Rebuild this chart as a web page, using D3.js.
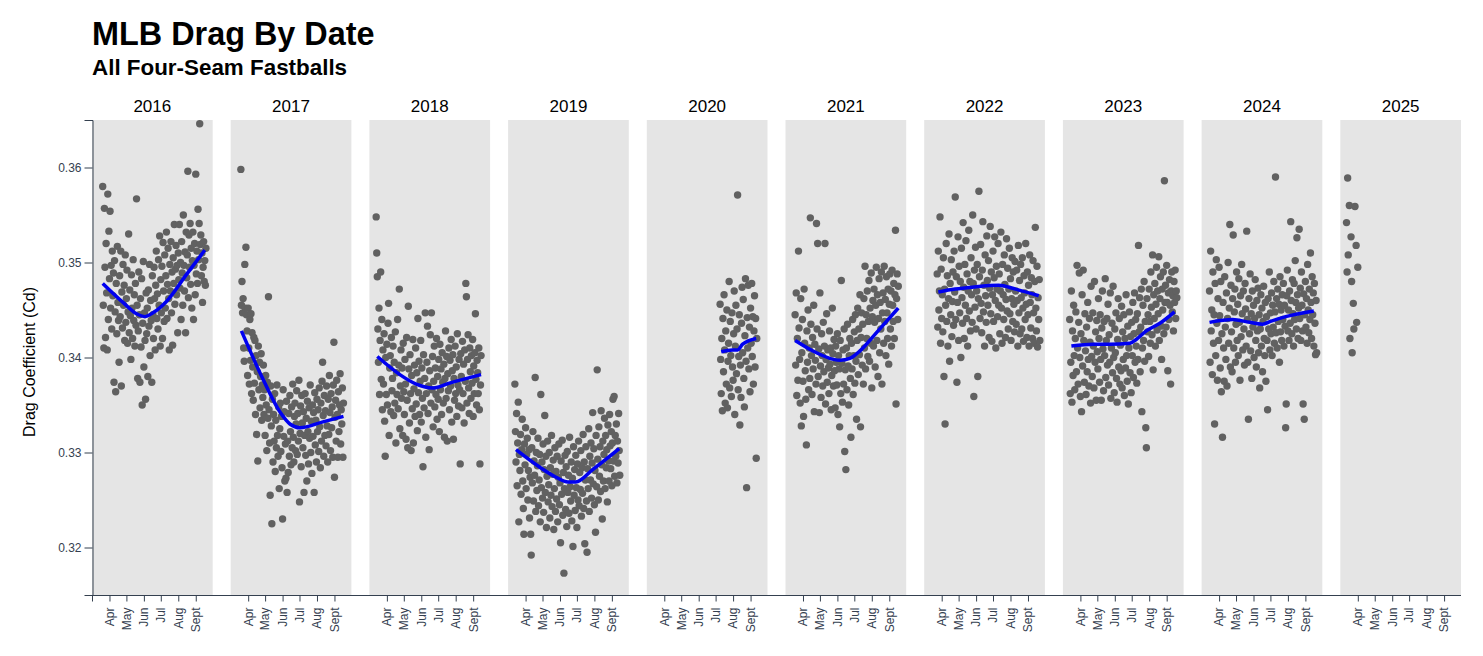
<!DOCTYPE html>
<html>
<head>
<meta charset="utf-8">
<script src="https://cdn.jsdelivr.net/npm/d3@7"></script>
<style>
  body { margin: 0; background: #fff; }
  svg { font-family: "Liberation Sans", Arial, sans-serif; }
</style>
</head>
<body>
<svg id="chart" width="1483" height="656"></svg>
<script>
const years = [2016, 2017, 2018, 2019, 2020, 2021, 2022, 2023, 2024, 2025];
// first point of each season, in days after March 1
const firstDay = [19, 18, 12, 12, 130, 17, 23, 12, 14, 11];
const monthLabels = ['Apr', 'May', 'Jun', 'Jul', 'Aug', 'Sept'];
const yTicks = [0.32, 0.33, 0.34, 0.35, 0.36];

// daily drag coefficient, in units of 0.0001 (null = no games)
const cd2016 = [
  3580, 3455, 3410, 3557, 3495, 3421, 3520, 3468, 3408, 3572,
  3440, 3533, 3483, 3554, 3452, 3497, 3430, 3512, 3465, 3489,
  3374, 3502, 3448, 3364, 3478, 3425, 3517, 3458, 3439, 3395,
  3486, 3443, 3512, 3370, 3469, 3431, 3498, 3455, 3476, 3418,
  3508, 3437, 3462, 3492, 3415, 3448, 3530, 3426, 3471, 3444,
  3398, 3487, 3452, 3420, 3503, 3439, 3466, 3412, 3478, 3434,
  3567, 3455, 3378, 3428, 3490, 3445, 3374, 3462, 3411, 3483,
  3350, 3436, 3501, 3390, 3447, 3418, 3356, 3468, 3425, 3452,
  3380, 3471, 3433, 3498, 3402, 3460, 3439, 3374, 3486, 3445,
  3420, 3495, 3462, 3408, 3476, 3512, 3441, 3467, 3430, 3503,
  3455, 3528, 3412, 3482, 3447, 3496, 3420, 3521, 3470, 3438,
  3508, 3452, 3486, 3532, 3441, 3477, 3515, 3462, 3408, 3498,
  3470, 3522, 3447, 3490, 3413, 3505, 3478, 3540, 3456, 3493,
  3518, 3466, 3497, 3426, 3510, 3482, 3540, 3473, 3500, 3440,
  3522, 3489, 3455, 3550, 3497, 3470, 3511, 3426, 3532, 3484,
  3508, 3596, 3463, 3529, 3495, 3541, 3477, 3515, 3452, 3502,
  3532, 3440, 3497, 3520, 3466, 3593, 3488, 3512, 3478, 3556,
  3503, 3541, 3646, 3519, 3529, 3486, 3510, 3458, 3495, 3522,
  3480, 3502, 3476, 3515,
];
const cd2017 = [
  3598, 3455, 3480, 3447, 3462, 3410, 3396, 3498, 3452, 3516,
  3445, 3428, 3381, 3452, 3410, 3372, 3440, 3397, 3446, 3362,
  3426, 3390, 3355, 3421, 3373, 3418, 3340, 3402, 3319, 3385,
  3291, 3412, 3366, 3395, 3347, 3380, 3404, 3334, 3371, 3358,
  3392, 3340, 3366, 3318, 3381, 3350, 3302, 3374, 3336, 3464,
  3345, 3310, 3255, 3370, 3328, 3225, 3356, 3290, 3340, 3312,
  3362, 3280, 3334, 3305, 3371, 3318, 3296, 3348, 3262, 3325,
  3352, 3301, 3338, 3284, 3230, 3366, 3317, 3343, 3270, 3309,
  3273, 3354, 3258, 3312, 3279, 3341, 3296, 3360, 3322, 3287,
  3348, 3305, 3372, 3316, 3290, 3338, 3352, 3302, 3330, 3365,
  3298, 3341, 3312, 3376, 3248, 3320, 3349, 3285, 3360, 3331,
  3305, 3343, 3258, 3318, 3362, 3297, 3336, 3270, 3354, 3322,
  3288, 3347, 3315, 3371, 3300, 3333, 3278, 3350, 3317, 3342,
  3258, 3363, 3308, 3334, 3290, 3356, 3322, 3345, 3301, 3368,
  3327, 3284, 3352, 3312, 3375, 3395, 3339, 3296, 3360, 3318,
  3344, 3307, 3370, 3328, 3290, 3356, 3319, 3381, 3342, 3302,
  3362, 3326, 3348, 3295, 3371, 3416, 3274, 3337, 3355, 3312,
  3376, 3340, 3295, 3364, 3322, 3350, 3383, 3309, 3345, 3330,
  3368, 3295, 3352,
];
const cd2018 = [
  3548, 3510, 3485, 3430, 3395, 3452, 3361, 3418, 3490, 3377,
  3440, 3345, 3408, 3372, 3425, 3333, 3296, 3400, 3361, 3414,
  3350, 3436, 3457, 3318, 3389, 3402, 3343, 3421, 3365, 3378,
  3412, 3339, 3395, 3352, 3427, 3310, 3384, 3361, 3440, 3346,
  3392, 3472, 3325, 3370, 3408, 3357, 3389, 3318, 3415, 3364,
  3340, 3398, 3372, 3314, 3421, 3355, 3305, 3454, 3388, 3331,
  3403, 3362, 3302, 3381, 3346, 3419, 3310, 3367, 3392, 3338,
  3410, 3351, 3384, 3323, 3441, 3363, 3396, 3340, 3375, 3418,
  3332, 3389, 3357, 3285, 3403, 3347, 3378, 3447, 3316, 3362,
  3395, 3433, 3341, 3370, 3303, 3386, 3424, 3352, 3447, 3366,
  3401, 3327, 3375, 3412, 3348, 3389, 3361, 3420, 3335, 3380,
  3356, 3398, 3322, 3414, 3366, 3388, 3340, 3405, 3374, 3352,
  3393, 3316, 3378, 3428, 3357, 3401, 3312, 3383, 3365, 3410,
  3345, 3397, 3370, 3419, 3332, 3386, 3403, 3314, 3378, 3355,
  3412, 3362, 3390, 3338, 3425, 3371, 3349, 3398, 3366, 3288,
  3404, 3380, 3347, 3417, 3362, 3393, 3331, 3408, 3375, 3478,
  3464, 3352, 3398, 3424, 3368, 3341, 3410, 3385, 3357, 3402,
  3373, 3419, 3338, 3391, 3362, 3405, 3446, 3377, 3350, 3397,
  3384, 3362, 3410, 3345, 3288, 3371, 3402,
];
const cd2019 = [
  3372, 3322, 3290, 3341, 3265, 3310, 3353, 3227, 3298, 3281,
  3319, 3256, 3303, 3335, 3270, 3241, 3214, 3309, 3287, 3326,
  3262, 3298, 3315, 3250, 3281, 3303, 3231, 3274, 3214, 3192,
  3305, 3268, 3322, 3249, 3291, 3276, 3379, 3238, 3300, 3260,
  3286, 3315, 3244, 3271, 3298, 3227, 3361, 3263, 3290, 3252,
  3309, 3237, 3282, 3339, 3258, 3296, 3221, 3275, 3312, 3248,
  3266, 3300, 3231, 3284, 3255, 3318, 3243, 3277, 3292, 3219,
  3262, 3305, 3238, 3280, 3251, 3296, 3227, 3274, 3309, 3245,
  3268, 3205, 3291, 3256, 3313, 3234, 3279, 3173, 3262, 3297,
  3240, 3285, 3222, 3301, 3258, 3276, 3236, 3316, 3264, 3249,
  3290, 3228, 3273, 3201, 3306, 3255, 3282, 3239, 3297, 3263,
  3221, 3288, 3250, 3312, 3244, 3279, 3261, 3302, 3233, 3284,
  3257, 3319, 3241, 3290, 3204, 3271, 3306, 3249, 3195, 3283,
  3262, 3325, 3238, 3296, 3271, 3310, 3252, 3289, 3342, 3267,
  3304, 3245, 3281, 3216, 3318, 3264, 3387, 3293, 3250, 3327,
  3275, 3306, 3259, 3344, 3287, 3230, 3312, 3270, 3298, 3336,
  3262, 3318, 3284, 3303, 3248, 3329, 3291, 3270, 3340, 3307,
  3283, 3322, 3265, 3310, 3356, 3291, 3359, 3275, 3318, 3296,
  3330, 3268, 3312, 3289, 3341, 3302, 3276,
];
const cd2020 = [
  3456, 3398, 3362, 3420, 3344, 3441, 3385, 3466, 3408, 3352,
  3428, 3372, 3450, 3347, 3396, 3415, 3480, 3368, 3438, 3402,
  3359, 3447, 3390, 3376, 3425, 3470, 3340, 3412, 3455, 3383,
  3430, 3571, 3366, 3401, 3445, 3329, 3392, 3358, 3436, 3474,
  3405, 3461, 3378, 3348, 3423, 3483, 3396, 3263, 3442, 3410,
  3476, 3388, 3432, 3364, 3452, 3415, 3478, 3401, 3443, 3372,
  3428, 3465, 3390, 3441, 3294, 3420,
];
const cd2021 = [
  3445, 3392, 3468, 3360, 3420, 3376, 3512, 3431, 3398, 3352,
  3462, 3328, 3405, 3440, 3375, 3338, 3472, 3415, 3386, 3356,
  3308, 3428, 3395, 3450, 3366, 3410, 3378, 3547, 3435, 3402,
  3361, 3421, 3388, 3455, 3343, 3414, 3397, 3372, 3541, 3430,
  3520, 3380, 3409, 3342, 3468, 3391, 3358, 3425, 3402, 3370,
  3437, 3385, 3412, 3520, 3351, 3398, 3446, 3374, 3408, 3389,
  3362, 3428, 3393, 3410, 3345, 3381, 3452, 3404, 3370, 3419,
  3386, 3347, 3412, 3395, 3371, 3425, 3340, 3402, 3388, 3327,
  3418, 3362, 3481, 3394, 3353, 3408, 3372, 3430, 3301, 3387,
  3282, 3410, 3366, 3435, 3391, 3350, 3402, 3420, 3378, 3316,
  3415, 3388, 3440, 3361, 3402, 3427, 3373, 3445, 3396, 3335,
  3418, 3452, 3382, 3430, 3403, 3466, 3327, 3421, 3447, 3392,
  3435, 3372, 3462, 3410, 3496, 3388, 3445, 3420, 3470, 3401,
  3438, 3481, 3396, 3452, 3415, 3489, 3368, 3443, 3460, 3412,
  3472, 3437, 3390, 3455, 3495, 3418, 3466, 3380, 3441, 3483,
  3405, 3458, 3430, 3490, 3372, 3447, 3468, 3415, 3496, 3438,
  3461, 3402, 3485, 3447, 3420, 3472, 3393, 3456, 3488, 3430,
  3470, 3412, 3492, 3455, 3438, 3478, 3420, 3466, 3534, 3351,
  3462, 3488, 3440, 3475,
];
const cd2022 = [
  3488, 3432, 3512, 3450, 3470, 3548, 3415, 3493, 3441, 3466,
  3427, 3505, 3380, 3472, 3330, 3455, 3520, 3438, 3486, 3412,
  3462, 3530, 3396, 3478, 3445, 3503, 3422, 3459, 3490, 3434,
  3512, 3469, 3569, 3440, 3485, 3374, 3458, 3527, 3418, 3496,
  3447, 3480, 3400, 3515, 3463, 3436, 3542, 3474, 3420, 3498,
  3455, 3523, 3441, 3488, 3412, 3470, 3534, 3449, 3480, 3428,
  3505, 3466, 3437, 3550, 3478, 3359, 3492, 3453, 3516, 3430,
  3470, 3498, 3380, 3462, 3575, 3485, 3441, 3519, 3457, 3426,
  3492, 3543, 3448, 3476, 3412, 3508, 3465, 3437, 3528, 3481,
  3455, 3502, 3421, 3473, 3538, 3446, 3490, 3417, 3466, 3512,
  3438, 3484, 3527, 3460, 3410, 3496, 3472, 3443, 3520, 3455,
  3488, 3425, 3470, 3532, 3452, 3415, 3498, 3466, 3440, 3508,
  3477, 3421, 3461, 3525, 3449, 3494, 3430, 3472, 3515, 3446,
  3483, 3418, 3462, 3505, 3438, 3490, 3456, 3427, 3501, 3470,
  3435, 3492, 3460, 3412, 3518, 3447, 3481, 3425, 3498, 3463,
  3430, 3505, 3452, 3417, 3486, 3468, 3440, 3520, 3456, 3421,
  3490, 3445, 3476, 3412, 3508, 3458, 3431, 3484, 3466, 3420,
  3502, 3447, 3415, 3480, 3537, 3452, 3428, 3496, 3411, 3463,
  3440, 3482, 3418,
];
const cd2023 = [
  3440, 3362, 3395, 3470, 3353, 3428, 3381, 3455, 3402, 3366,
  3420, 3448, 3385, 3497, 3410, 3372, 3437, 3489, 3400, 3359,
  3425, 3343, 3466, 3391, 3492, 3418, 3374, 3446, 3407, 3361,
  3432, 3385, 3458, 3398, 3370, 3441, 3416, 3352, 3475, 3401,
  3380, 3447, 3412, 3368, 3480, 3395, 3427, 3355, 3439, 3406,
  3388, 3462, 3420, 3374, 3445, 3398, 3355, 3431, 3470, 3409,
  3365, 3438, 3402, 3483, 3379, 3418, 3441, 3392, 3456, 3371,
  3424, 3395, 3468, 3357, 3410, 3436, 3384, 3475, 3400, 3363,
  3430, 3405, 3447, 3378, 3353, 3419, 3462, 3390, 3441, 3372,
  3413, 3386, 3454, 3368, 3427, 3398, 3445, 3360, 3420, 3389,
  3466, 3402, 3375, 3433, 3351, 3410, 3448, 3384, 3422, 3363,
  3437, 3402, 3458, 3379, 3425, 3468, 3395, 3440, 3412, 3373,
  3446, 3398, 3518, 3427, 3463, 3385, 3432, 3472, 3343, 3410,
  3455, 3418, 3480, 3396, 3438, 3326, 3305, 3462, 3427, 3445,
  3401, 3472, 3438, 3415, 3490, 3453, 3424, 3508, 3387, 3466,
  3441, 3478, 3412, 3456, 3495, 3429, 3470, 3446, 3506, 3418,
  3462, 3485, 3433, 3398, 3472, 3450, 3490, 3425, 3586, 3458,
  3476, 3432, 3497, 3458, 3386, 3468, 3440, 3482, 3455, 3372,
  3470, 3490, 3448, 3465, 3428, 3480, 3458, 3492, 3441, 3470,
  3463,
];
const cd2024 = [
  3470, 3395, 3512, 3428, 3450, 3382, 3490, 3415, 3445, 3330,
  3478, 3402, 3503, 3436, 3376, 3462, 3418, 3495, 3444, 3389,
  3480, 3364, 3425, 3316, 3458, 3410, 3375, 3485, 3432, 3398,
  3468, 3370, 3441, 3500, 3415, 3452, 3540, 3390, 3476, 3427,
  3385, 3462, 3529, 3410, 3448, 3472, 3395, 3435, 3490, 3418,
  3456, 3402, 3483, 3437, 3376, 3465, 3422, 3498, 3446, 3408,
  3470, 3430, 3392, 3478, 3451, 3412, 3533, 3440, 3395, 3335,
  3462, 3425, 3488, 3407, 3446, 3378, 3470, 3432, 3455, 3400,
  3441, 3482, 3418, 3390, 3460, 3428, 3473, 3405, 3445, 3368,
  3430, 3466, 3412, 3452, 3385, 3438, 3475, 3420, 3402, 3458,
  3375, 3443, 3418, 3345, 3462, 3430, 3490, 3408, 3447, 3425,
  3468, 3402, 3455, 3432, 3480, 3415, 3448, 3590, 3426, 3462,
  3410, 3472, 3438, 3456, 3395, 3485, 3427, 3450, 3418, 3466,
  3440, 3478, 3412, 3455, 3433, 3326, 3351, 3465, 3492, 3428,
  3450, 3418, 3470, 3436, 3543, 3460, 3425, 3482, 3446, 3412,
  3478, 3440, 3502, 3458, 3430, 3526, 3466, 3420, 3452, 3535,
  3441, 3473, 3418, 3490, 3455, 3428, 3351, 3467, 3335, 3445,
  3480, 3432, 3462, 3415, 3498, 3450, 3426, 3472, 3440, 3510,
  3458, 3420, 3485, 3445, 3468, 3412, 3478, 3436, 3403, 3460,
  3405,
];
const cd2025 = [
  3542, 3490, 3589, 3508, null, 3560, 3420, null, 3527, 3480,
  3405, null, 3457, 3430, null, 3559, null, 3518, 3437, null,
  3495, null,
];

// smoothed trend: [days after March 1, Cd x 10000]
const smooth2016 = [[19, 3478], [55, 3458], [79, 3446], [94, 3443], [108, 3447], [132, 3459], [167, 3487], [200, 3513]];
const smooth2017 = [[19, 3428], [55, 3380], [88, 3342], [105, 3330], [123, 3326], [162, 3332], [200, 3338]];
const smooth2018 = [[14, 3401], [54, 3382], [83, 3372], [113, 3368], [142, 3373], [198, 3382]];
const smooth2019 = [[14, 3303], [55, 3285], [85, 3274], [106, 3269], [120, 3269], [150, 3282], [197, 3304]];
const smooth2020 = [[132, 3406], [152, 3408], [161, 3408], [170, 3414], [194, 3420]];
const smooth2021 = [[17, 3418], [55, 3405], [85, 3398], [97, 3397], [114, 3399], [132, 3407], [161, 3426], [200, 3452]];
const smooth2022 = [[25, 3469], [55, 3472], [85, 3474], [132, 3476], [162, 3472], [203, 3465]];
const smooth2023 = [[15, 3412], [54, 3414], [83, 3414], [119, 3415], [130, 3419], [148, 3428], [172, 3436], [198, 3448]];
const smooth2024 = [[14, 3437], [55, 3440], [85, 3437], [108, 3435], [122, 3438], [149, 3443], [199, 3449]];

const daily = [cd2016, cd2017, cd2018, cd2019, cd2020, cd2021, cd2022, cd2023, cd2024, cd2025];
const smooth = [smooth2016, smooth2017, smooth2018, smooth2019, smooth2020,
  smooth2021, smooth2022, smooth2023, smooth2024, null];

const axisColor = '#34404f';
const svg = d3.select('#chart');

const fx = d3.scaleBand()
  .domain(years)
  .range([92, 1461])
  .paddingInner(0.13);
const y = d3.scaleLinear()
  .domain([0.315, 0.365])
  .range([595, 120]);

svg.append('text')
  .attr('x', 92)
  .attr('y', 45)
  .attr('font-size', 32.4)
  .attr('font-weight', 'bold')
  .text('MLB Drag By Date');
svg.append('text')
  .attr('x', 92)
  .attr('y', 75)
  .attr('font-size', 22.4)
  .attr('font-weight', 'bold')
  .text('All Four-Seam Fastballs');

svg.append('text')
  .attr('transform', 'translate(35,362) rotate(-90)')
  .attr('text-anchor', 'middle')
  .attr('font-size', 16)
  .text('Drag Coefficient (Cd)');

years.forEach((year, i) => {
  const start = new Date(Date.UTC(year, 2, 1));
  const x = d3.scaleUtc()
    .domain([start, new Date(Date.UTC(year, 9, 1))])
    .range([0, fx.bandwidth()]);

  const panel = svg.append('g')
    .attr('transform', `translate(${fx(year)},0)`);

  panel.append('rect')
    .attr('x', 0)
    .attr('y', y.range()[1])
    .attr('width', fx.bandwidth())
    .attr('height', y.range()[0] - y.range()[1])
    .attr('fill', '#e5e5e5');

  panel.append('text')
    .attr('x', fx.bandwidth() / 2)
    .attr('y', 111.5)
    .attr('text-anchor', 'middle')
    .attr('font-size', 17)
    .text(year);

  const points = daily[i]
    .map((v, k) => ({ date: d3.utcDay.offset(start, firstDay[i] + k), cd: v }))
    .filter((d) => d.cd !== null);

  panel.selectAll('circle')
    .data(points)
    .join('circle')
    .attr('cx', (d) => x(d.date))
    .attr('cy', (d) => y(d.cd / 1e4))
    .attr('r', 3.7)
    .attr('fill', '#616161');

  if (smooth[i]) {
    const line = d3.line()
      .x((d) => x(d3.utcDay.offset(start, d[0])))
      .y((d) => y(d[1] / 1e4))
      .curve(d3.curveMonotoneX);
    panel.append('path')
      .datum(smooth[i])
      .attr('d', line)
      .attr('fill', 'none')
      .attr('stroke', '#0000f0')
      .attr('stroke-width', 3.5);
  }

  const months = d3.utcMonth.range(new Date(Date.UTC(year, 3, 1)), new Date(Date.UTC(year, 9, 1)));
  const xAxis = panel.append('g')
    .attr('transform', `translate(0,${y.range()[0] + 0.5})`)
    .attr('color', axisColor)
    .call(d3.axisBottom(x)
      .tickValues(months)
      .tickFormat((d) => monthLabels[d.getUTCMonth() - 3])
      .tickSize(6)
      .tickSizeOuter(0));
  xAxis.select('.domain').remove();
  xAxis.attr('font-family', null).attr('font-size', 12);
  xAxis.selectAll('.tick text')
    .attr('transform', 'rotate(-90)')
    .attr('text-anchor', 'end')
    .attr('x', -12)
    .attr('y', 0)
    .attr('dy', '0.32em')
    .attr('fill', axisColor);
});

// shared baseline under all facets, with the start tick of the first one
svg.append('path')
  .attr('d', `M92,${y.range()[0] + 0.5}H1461M92.5,${y.range()[0] + 0.5}V${y.range()[0] + 6.5}`)
  .attr('stroke', axisColor)
  .attr('fill', 'none');

const yAxis = svg.append('g')
  .attr('transform', 'translate(92.5,0)')
  .attr('color', axisColor)
  .call(d3.axisLeft(y)
    .tickValues(yTicks)
    .tickFormat(d3.format('.2f'))
    .tickSize(8)
    .tickPadding(3));
yAxis.attr('font-family', null).attr('font-size', 12);
</script>
</body>
</html>
